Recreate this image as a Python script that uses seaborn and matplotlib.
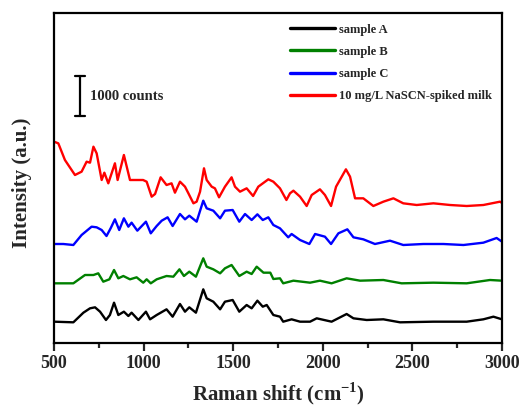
import matplotlib
matplotlib.use("Agg")
import matplotlib.pyplot as plt
import seaborn as sns
import pandas as pd

# ---------------- data (offset-stacked counts) ----------------
wn_a = [500, 608, 664, 701, 729, 757, 790, 812, 835, 859, 890, 915, 933, 971, 1013, 1036,
        1073, 1128, 1162, 1203, 1231, 1255, 1292, 1333, 1352, 1389, 1427, 1454, 1497, 1534,
        1575, 1603, 1635, 1665, 1687, 1724, 1761, 1779, 1826, 1873, 1929, 1966, 2049, 2133,
        2171, 2245, 2338, 2431, 2617, 2803, 2896, 2952, 3000]
int_a = [533, 517, 758, 867, 892, 783, 575, 700, 1008, 700, 783, 675, 758, 575, 783, 592,
         700, 842, 658, 975, 783, 892, 758, 1342, 1117, 1033, 842, 1033, 1075, 783,
         950, 867, 1058, 908, 950, 700, 658, 533, 592, 533, 533, 617, 533, 725,
         617, 575, 592, 517, 533, 533, 592, 658, 592]

wn_b = [500, 608, 673, 720, 747, 775, 809, 835, 859, 887, 924, 961, 998, 1017, 1040, 1073,
        1128, 1166, 1200, 1225, 1255, 1292, 1333, 1352, 1389, 1427, 1454, 1491, 1534, 1575,
        1603, 1631, 1669, 1707, 1724, 1761, 1779, 1836, 1929, 1984, 2049, 2133, 2208, 2338,
        2440, 2617, 2803, 2933, 3000]
int_b = [1492, 1492, 1700, 1700, 1742, 1533, 1592, 1825, 1617, 1675, 1592, 1642, 1508, 1592, 1492, 1592,
         1675, 1658, 1842, 1675, 1783, 1658, 2117, 1908, 1842, 1742, 1867, 1950, 1675, 1783,
         1725, 1908, 1758, 1758, 1600, 1617, 1492, 1558, 1508, 1558, 1492, 1617, 1558, 1575,
         1492, 1508, 1492, 1575, 1558]

wn_c = [500, 552, 608, 654, 710, 738, 766, 793, 816, 840, 864, 890, 915, 933, 965, 1013, 1040,
        1073, 1101, 1134, 1162, 1203, 1231, 1255, 1296, 1333, 1352, 1389, 1427, 1454, 1497,
        1534, 1566, 1603, 1635, 1665, 1696, 1724, 1761, 1807, 1826, 1873, 1925, 1957, 2012,
        2046, 2087, 2137, 2171, 2226, 2291, 2375, 2449, 2561, 2673, 2785, 2896, 2970, 3000]
int_c = [2475, 2475, 2450, 2700, 2908, 2892, 2825, 2675, 2867, 3092, 2825, 3117, 2908, 3008, 2808, 3033, 2742,
         2925, 3058, 3142, 2925, 3225, 3092, 3183, 3033, 3558, 3367, 3308, 3117, 3308, 3325,
         3033, 3225, 3075, 3217, 3075, 3142, 2950, 2867, 2642, 2725, 2575, 2475, 2725, 2658,
         2475, 2742, 2842, 2642, 2592, 2475, 2558, 2450, 2475, 2475, 2450, 2508, 2625, 2533]

wn_d = [500, 524, 561, 617, 654, 682, 701, 720, 738, 766, 781, 803, 840, 855, 890, 924, 961,
        997, 1017, 1045, 1064, 1095, 1128, 1156, 1175, 1203, 1231, 1250, 1278, 1296, 1315,
        1337, 1352, 1380, 1398, 1421, 1454, 1491, 1510, 1538, 1575, 1611, 1640, 1696, 1724,
        1761, 1797, 1817, 1836, 1873, 1910, 1938, 1984, 2012, 2046, 2074, 2129, 2152, 2180,
        2226, 2282, 2338, 2394, 2449, 2524, 2617, 2710, 2803, 2896, 2989, 3000]
int_d = [5033, 4992, 4575, 4200, 4283, 4533, 4508, 4908, 4742, 4075, 4258, 3992, 4492, 4075, 4700, 4075, 4075,
         4075, 4033, 3658, 3725, 4142, 3950, 3992, 3758, 4033, 3908, 3742, 3492, 3533, 3783,
         4367, 4075, 3908, 3867, 3642, 3908, 4142, 3908, 3783, 3867, 3675, 3908, 4092, 4033,
         3867, 3575, 3742, 3808, 3658, 3425, 3700, 3842, 3700, 3425, 3908, 4342, 4158, 3617,
         3617, 3425, 3533, 3617, 3492, 3450, 3492, 3450, 3425, 3450, 3533, 3500]

labels = ["sample A", "sample B", "sample C", "10 mg/L NaSCN-spiked milk"]
colors = ["#000000", "#008000", "#0000ff", "#ff0000"]
x_ticks = [500, 1000, 1500, 2000, 2500, 3000]
scale_counts = 1000

# ---------------- build table ----------------
frames = []
for lab, w, v in zip(labels, [wn_a, wn_b, wn_c, wn_d], [int_a, int_b, int_c, int_d]):
    frames.append(pd.DataFrame({"wn": w, "I": v, "series": lab}))
df = pd.concat(frames, ignore_index=True)

# ---------------- style ----------------
sns.set_theme(style="ticks")
plt.rcParams["font.family"] = ["Liberation Serif", "DejaVu Serif"]
plt.rcParams["font.weight"] = "bold"
plt.rcParams["mathtext.fontset"] = "custom"
plt.rcParams["mathtext.rm"] = "Liberation Serif:bold"
plt.rcParams["mathtext.bf"] = "Liberation Serif:bold"

fig = plt.figure(figsize=(5.22, 4.09), dpi=100)
ax = fig.add_axes([54 / 522, 66 / 409, 448 / 522, 330 / 409])

sns.lineplot(data=df, x="wn", y="I", hue="series", hue_order=labels,
             palette=colors, linewidth=1.7, legend=False, ax=ax, sort=False)

ax.set_xlim(500, 3000)
ax.set_ylim(0, 8250)
ax.set_xticks(x_ticks)
ax.set_xticks([750, 1250, 1750, 2250, 2750], minor=True)
ax.set_xticklabels([str(t) for t in x_ticks], fontsize=13, fontweight="bold")
ax.set_yticks([])
ax.tick_params(axis="x", which="major", length=6, width=1.6, direction="out", pad=3)
ax.tick_params(axis="x", which="minor", length=3.5, width=1.6, direction="out")
for s in ax.spines.values():
    s.set_linewidth(1.6)
    s.set_color("black")

ax.set_xlabel(r"Raman shift (cm$^{\mathbf{-1}}$)", fontsize=15, fontweight="bold")
ax.set_ylabel("Intensity (a.u.)", fontsize=15, fontweight="bold")
ax.xaxis.set_label_coords(0.502, -0.112)
ax.yaxis.set_label_coords(-0.05, 0.485)

# scale bar
bar_x, bar_y0 = 645, 5675
ax.plot([bar_x, bar_x], [bar_y0, bar_y0 + scale_counts], color="black", lw=1.6)
ax.plot([bar_x - 28, bar_x + 28], [bar_y0, bar_y0], color="black", lw=1.6)
ax.plot([bar_x - 28, bar_x + 28], [bar_y0 + scale_counts, bar_y0 + scale_counts], color="black", lw=1.6)
ax.text(bar_x + 56, bar_y0 + scale_counts / 2, f"{scale_counts} counts", fontsize=10.5,
        fontweight="bold", va="center", ha="left")

# legend
handles = ax.lines[:4]
leg = ax.legend(handles, labels, loc="upper left", bbox_to_anchor=(0.527, 0.968),
                frameon=False, handlelength=3.6, handletextpad=0.3,
                labelspacing=0.82, borderpad=0, borderaxespad=0,
                prop={"weight": "bold", "size": 9})
for h in leg.get_lines():
    h.set_linewidth(2.4)

fig.savefig("out.png", dpi=100)
